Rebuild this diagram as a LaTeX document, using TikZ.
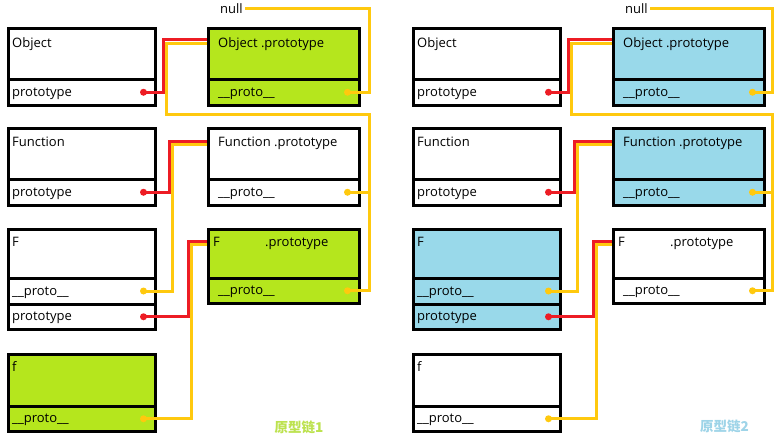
\documentclass[tikz,border=0pt]{standalone}
\usepackage{fontspec}
\setmainfont{Open Sans}
\newfontfamily\cjk{Noto Sans CJK SC}
\definecolor{clime}{HTML}{B5E61D}
\definecolor{cturq}{HTML}{99D9EA}
\definecolor{cred}{HTML}{ED1C24}
\definecolor{cgold}{HTML}{FFC90E}
\definecolor{lblgreen}{RGB}{188,226,78}
\definecolor{lblblue}{RGB}{158,212,232}
\tikzset{
  box/.style={draw=black, line width=3pt, inner sep=0pt, outer sep=0pt, anchor=north west},
  txt/.style={inner sep=0pt, anchor=base west, font=\fontsize{13}{15}\selectfont},
  redl/.style={draw=cred, line width=3pt},
  yell/.style={draw=cgold, line width=3pt},
  rdot/.style={fill=cred, circle, inner sep=0pt, minimum size=7pt},
  ydot/.style={fill=cgold, circle, inner sep=0pt, minimum size=7pt},
  lbl/.style={inner sep=0pt, font=\cjk\bfseries\fontsize{13.5}{15}\selectfont},
}
\newcommand\mybox[6]{%
  \node[box, fill=#6, minimum width=#4pt, minimum height=#5pt] (#1) at (#2,#3) {};}
% #1 prefix, #2 Object.prototype fill, #3 Function.prototype fill, #4 F fill, #5 F.prototype fill, #6 f fill, #7 stub
\newcommand\panel[7]{%
  \mybox{#1o}{8.5}{28.5}{147}{50.5}{white}
  \mybox{#1oR}{8.5}{79}{147}{26.5}{white}
  \mybox{#1op}{208.5}{28.5}{151}{50.5}{#2}
  \mybox{#1opR}{208.5}{79}{151}{26.5}{#2}
  \mybox{#1fn}{8.5}{128.5}{147}{50.5}{white}
  \mybox{#1fnR}{8.5}{179}{147}{26.5}{white}
  \mybox{#1fp}{208.5}{128.5}{151}{50.5}{#3}
  \mybox{#1fpR}{208.5}{179}{151}{26.5}{#3}
  \mybox{#1F}{8.5}{229.5}{147}{48.5}{#4}
  \mybox{#1FRa}{8.5}{278}{147}{26}{#4}
  \mybox{#1FRb}{8.5}{304}{147}{25.5}{#4}
  \mybox{#1Fp}{208.5}{229.5}{151}{48.5}{#5}
  \mybox{#1FpR}{208.5}{278}{151}{25.5}{#5}
  \mybox{#1f}{8.5}{354.5}{147}{51.5}{#6}
  \mybox{#1fR}{8.5}{406}{147}{25.5}{#6}
  % texts
  \node[txt] (#1ot) at ([xshift=3.5pt,yshift=-18.5pt]#1o.north west) {Object};
  \node[txt] (#1oRt) at ([xshift=3.5pt,yshift=-4pt]#1oR.west) {prototype};
  \node[txt] (#1opt) at ([xshift=9.5pt,yshift=-18.5pt]#1op.north west) {Object .prototype};
  \node[txt] (#1opRt) at ([xshift=9.5pt,yshift=-4pt]#1opR.west) {\_\_proto\_\_};
  \node[txt] (#1fnt) at ([xshift=3.5pt,yshift=-17.5pt]#1fn.north west) {Function};
  \node[txt] (#1fnRt) at ([xshift=3.5pt,yshift=-4pt]#1fnR.west) {prototype};
  \node[txt] (#1fpt) at ([xshift=9.5pt,yshift=-17.5pt]#1fp.north west) {Function .prototype};
  \node[txt] (#1fpRt) at ([xshift=9.5pt,yshift=-4pt]#1fpR.west) {\_\_proto\_\_};
  \node[txt] (#1Ft) at ([xshift=3.5pt,yshift=-17pt]#1F.north west) {F};
  \node[txt] (#1FRat) at ([xshift=3.5pt,yshift=-4pt]#1FRa.west) {\_\_proto\_\_};
  \node[txt] (#1FRbt) at ([xshift=3.5pt,yshift=-4pt]#1FRb.west) {prototype};
  \node[txt] (#1Fpt) at ([xshift=4.5pt,yshift=-17pt]#1Fp.north west) {F};
  \node[txt] (#1Fpt2) at ([xshift=56.5pt,yshift=-17pt]#1Fp.north west) {.prototype};
  \node[txt] (#1FpRt) at ([xshift=9.5pt,yshift=-4pt]#1FpR.west) {\_\_proto\_\_};
  \node[txt] (#1ft) at ([xshift=3.5pt,yshift=-17pt]#1f.north west) {f};
  \node[txt] (#1fRt) at ([xshift=3.5pt,yshift=-4pt]#1fR.west) {\_\_proto\_\_};
  \node[txt] (#1null) at (220,13) {null};
  % dot positions
  \coordinate (#1d1) at ([xshift=-12pt]#1oR.east);
  \coordinate (#1d2) at ([xshift=-12pt]#1fnR.east);
  \coordinate (#1d3) at ([xshift=-12pt]#1FRb.east);
  \coordinate (#1d4) at ([xshift=-12pt]#1opR.east);
  \coordinate (#1d5) at ([xshift=-12pt]#1fpR.east);
  \coordinate (#1d6) at ([xshift=-12pt]#1FpR.east);
  \coordinate (#1d7) at ([xshift=-12pt]#1FRa.east);
  \coordinate (#1d8) at ([xshift=-12pt]#1fR.east);
  \coordinate (#1ya) at (166,114);
  % yellow connectors
  \draw[yell] (#1d4) -- ++(#7,0) |- ([xshift=2pt,yshift=5pt]#1null.base east);
  \draw[yell] (#1d5) -- ++(#7,0);
  \draw[yell] (#1d6) -- ++(#7,0) |- (#1ya) |- ([xshift=-1.5pt,yshift=-14.5pt]#1op.north west);
  \draw[yell] (#1d7) -- ++(28.5,0) |- ([xshift=-1.5pt,yshift=-16pt]#1fp.north west);
  \draw[yell] (#1d8) -- ++(47.5,0) |- ([xshift=-1.5pt,yshift=-14.5pt]#1Fp.north west);
  % red connectors
  \draw[redl] (#1d1) -- ++(19.5,0) |- ([xshift=-1.5pt,yshift=-10.5pt]#1op.north west);
  \draw[redl] (#1d2) -- ++(25.5,0) |- ([xshift=-1.5pt,yshift=-12.5pt]#1fp.north west);
  \draw[redl] (#1d3) -- ++(44.5,0) |- ([xshift=-1.5pt,yshift=-11.5pt]#1Fp.north west);
  % dots
  \node[rdot] (#1n1) at (#1d1) {};
  \node[rdot] (#1n2) at (#1d2) {};
  \node[rdot] (#1n3) at (#1d3) {};
  \node[ydot] (#1n4) at (#1d4) {};
  \node[ydot] (#1n5) at (#1d5) {};
  \node[ydot] (#1n6) at (#1d6) {};
  \node[ydot] (#1n7) at (#1d7) {};
  \node[ydot] (#1n8) at (#1d8) {};
}
\begin{document}
\begin{tikzpicture}[x=1pt, y=-1pt]
  \useasboundingbox[fill=white] (0,0) rectangle (780,442);
  \begin{scope}
    \panel{L}{clime}{white}{white}{clime}{clime}{21.5}
  \end{scope}
  \begin{scope}[xshift=405pt]
    \panel{R}{cturq}{cturq}{cturq}{white}{white}{19.5}
  \end{scope}
  \node[lbl, text=lblgreen] (lab1) at (299,427) {原型链1};
  \node[lbl, text=lblblue] (lab2) at (724.5,426) {原型链2};
\end{tikzpicture}
\end{document}
